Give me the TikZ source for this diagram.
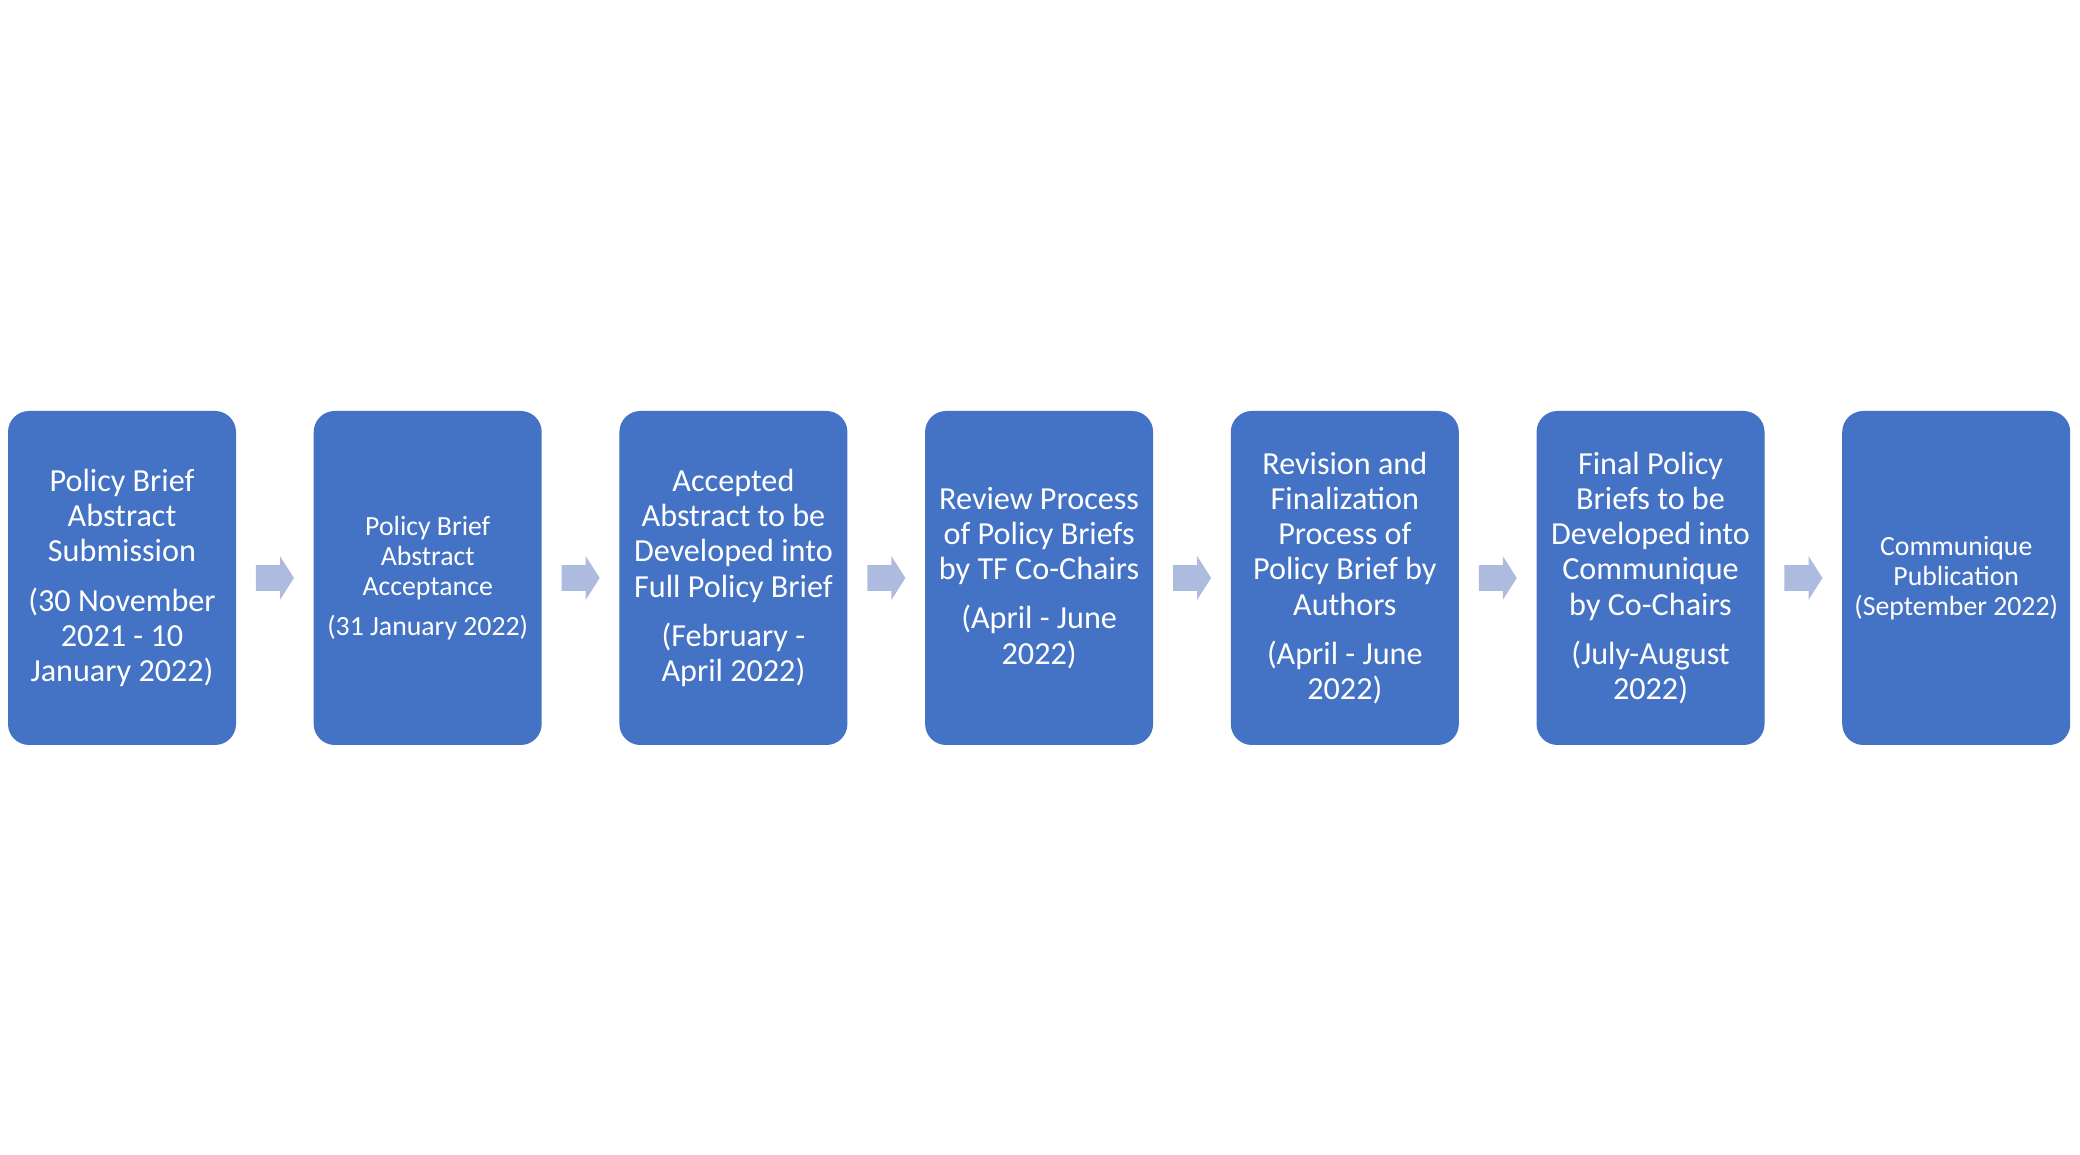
\documentclass[tikz,border=0pt]{standalone}
\usepackage{fontspec}
\setmainfont{Carlito}
\usepackage{tikz}
\usetikzlibrary{positioning,shapes,shapes.arrows,calc}
\usepackage{xcolor}
\definecolor{stageblue}{RGB}{68,114,196}
\definecolor{arrowblue}{RGB}{173,187,222}

\begin{document}
\begin{tikzpicture}[
      node distance=15.4mm, % gap between the stages
      stage/.style={rectangle, fill=stageblue, text=white, align=center, rounded corners=4.2mm, minimum width=45.6mm, minimum height=66.8mm, inner sep=0pt, font=\fontsize{18.3}{20}\selectfont},
      stagesmall/.style={stage, font=\fontsize{15.8}{17}\selectfont},
      flow/.style={single arrow, fill=arrowblue, inner xsep=0pt, inner ysep=2.5mm, minimum height=7.6mm, single arrow head extend=1.8mm, single arrow tip angle=115, xshift=-0.8mm}
  ]
      \useasboundingbox (0,0) rectangle (41.6,23.1);

      % Stages - left to right
      \node (submit) [stage] at (2.44,11.54) {Policy Brief\\Abstract\\Submission\\[8pt](30 November\\2021 - 10\\January 2022)};

      \node (accept) [stagesmall, right=of submit] {Policy Brief\\Abstract\\Acceptance\\[6pt](31 January 2022)};

      \node (develop) [stage, right=of accept] {Accepted\\Abstract to be\\Developed into\\Full Policy Brief\\[8pt](February -\\April 2022)};

      \node (review) [stage, right=of develop] {Review Process\\of Policy Briefs\\by TF Co-Chairs\\[8pt](April - June\\2022)};

      \node (revise) [stage, right=of review] {Revision and\\Finalization\\Process of\\Policy Brief by\\Authors\\[8pt](April - June\\2022)};

      \node (final) [stage, right=of revise] {Final Policy\\Briefs to be\\Developed into\\Communique\\by Co-Chairs\\[8pt](July-August\\2022)};

      \node (publish) [stagesmall, right=of final] {Communique\\Publication\\(September 2022)};

      % Arrows in the gaps
      \path (submit) -- node[flow] (flow1) {} (accept);
      \path (accept) -- node[flow] (flow2) {} (develop);
      \path (develop) -- node[flow] (flow3) {} (review);
      \path (review) -- node[flow] (flow4) {} (revise);
      \path (revise) -- node[flow] (flow5) {} (final);
      \path (final) -- node[flow] (flow6) {} (publish);
  \end{tikzpicture}
\end{document}
